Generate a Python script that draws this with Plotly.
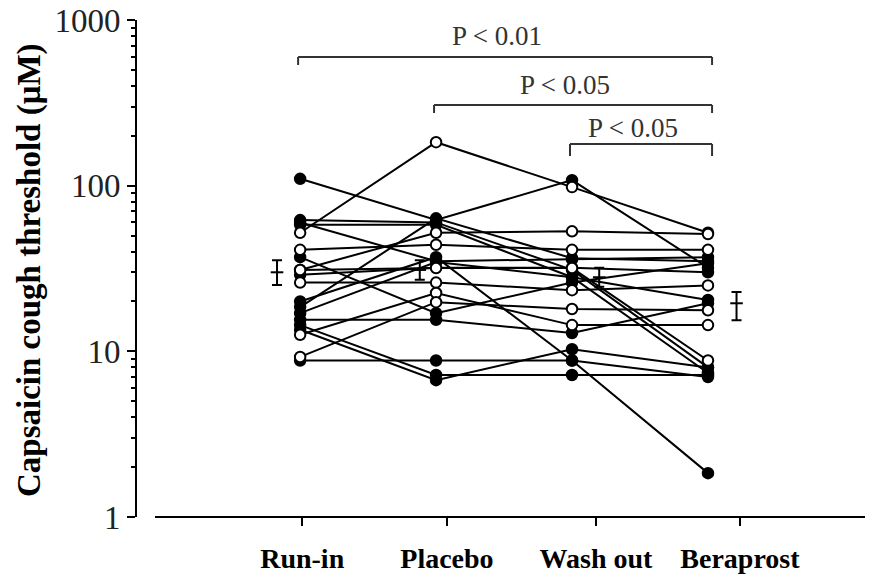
import plotly.graph_objects as go

# ---------------- data ----------------
categories = ["Run-in", "Placebo", "Wash out", "Beraprost"]

# one entry per subject (capsaicin cough threshold, µM)
run_in    = [110, 52, 62, 58, 60, 41, 31, 37, 26, 29, 20, 18.5, 17, 15.5, 14.4, 13.5, 12.6, 9.25, 8.8, 31]
placebo   = [62, 183, 60, 58, 35, 44, 52, 17, 26, 32, 37, 63.5, 34.6, 15.5, 7.2, 6.7, 22.5, 19.8, 8.8, 31.8]
wash_out  = [108, 98, 31, 28, 36, 41, 53, 26, 23.4, 32, 8.8, 36.5, 28, 12.9, 7.2, 10.3, 14.4, 18, 8.8, 31.8]
beraprost = [32, 52, 8.0, 7.4, 37, 41, 51, 34, 25, 30, 1.84, 35, 20.4, 19.5, 7.2, 8.0, 14.4, 17.7, 7.0, 8.8]
filled    = [1, 0, 1, 1, 1, 0, 0, 1, 0, 1, 1, 1, 1, 1, 1, 1, 0, 0, 1, 0]

# group mean ± SE
mean_vals  = [30, 31, 28, 19.5]
se_plus    = [5.5, 4.5, 4.0, 3.3]
se_minus   = [4.9, 4.0, 3.5, 4.1]

p_labels = ["P < 0.01", "P < 0.05", "P < 0.05"]
p_pairs  = [(0, 3), (1, 3), (2, 3)]

y_tick_vals = [1, 10, 100, 1000]
y_tick_text = ["1", "10", "100", "1000"]

# ---------------- styling ----------------
FONT = "Liberation Serif"
xpos = [1, 2, 3, 4]
mean_offsets = [-0.17, -0.12, 0.2, 0.21]
label_pos = [1.015, 2.08, 3.176, 4.235]

fig = go.Figure()

subjects = list(zip(run_in, placebo, wash_out, beraprost))
for vals in subjects:
    fig.add_trace(go.Scatter(x=xpos, y=list(vals), mode="lines",
                             line=dict(color="black", width=2),
                             hoverinfo="skip", showlegend=False))

for is_filled in (1, 0):
    xs, ys = [], []
    for vals, f in zip(subjects, filled):
        if f == is_filled:
            xs += xpos
            ys += list(vals)
    fig.add_trace(go.Scatter(
        x=xs, y=ys, mode="markers", showlegend=False,
        marker=dict(symbol="circle", size=10.5,
                    color="black" if is_filled else "white",
                    line=dict(color="black", width=2))))

# mean ± SE
fig.add_trace(go.Scatter(
    x=[p + o for p, o in zip(xpos, mean_offsets)], y=mean_vals,
    mode="markers", showlegend=False,
    marker=dict(symbol="line-ew-open", size=9, color="black",
                line=dict(color="black", width=2)),
    error_y=dict(type="data", symmetric=False, array=se_plus, arrayminus=se_minus,
                 color="black", thickness=2, width=5)))

# page has an 8px body margin: figure occupies 869x569 starting at (8, 8)
PLOT_BOTTOM = 509.0   # y of the x axis inside the figure
PLOT_H = 497.0

def py2paper(py):          # py = pixel y in the screenshot
    return (PLOT_BOTTOM - (py - 8)) / PLOT_H

bracket_px = [(57, 65, 36), (105, 113, 85), (144, 156, 128)]
shapes = []
annotations = []
for (a, b), lab, (ytop, yend, ylab) in zip(p_pairs, p_labels, bracket_px):
    x0, x1 = xpos[a] - 0.015, xpos[b] + 0.03
    for seg in [(x0, ytop, x1, ytop), (x0, ytop, x0, yend), (x1, ytop, x1, yend)]:
        shapes.append(dict(type="line", xref="x", yref="paper",
                           x0=seg[0], x1=seg[2], y0=py2paper(seg[1]), y1=py2paper(seg[3]),
                           line=dict(color="#333333", width=2)))
    annotations.append(dict(text=lab, xref="x", yref="paper",
                            x=(x0 + x1) / 2, y=py2paper(ylab), xshift=-8,
                            showarrow=False, xanchor="center", yanchor="middle",
                            font=dict(family=FONT, size=27, color="#333333")))

# x-axis baseline (offset from y axis)
shapes.append(dict(type="line", xref="paper", yref="paper", x0=(155 - 137) / 728, x1=1,
                   y0=0, y1=0, line=dict(color="black", width=2)))

annotations.append(dict(text="Capsaicin cough threshold (μM)", xref="paper", yref="paper",
                        x=(29 - 137) / 728, y=py2paper(270), textangle=-90, showarrow=False,
                        xanchor="center", yanchor="middle",
                        font=dict(family=FONT, size=33, color="black", weight="bold")))

minor_vals = [m * 10 ** d for d in range(3) for m in range(2, 10)]

fig.update_layout(
    width=869, height=569,
    margin=dict(l=129, r=12, t=12, b=60, autoexpand=False),
    paper_bgcolor="white", plot_bgcolor="white",
    shapes=shapes, annotations=annotations,
    xaxis=dict(range=[-0.2, 5.155], showgrid=False, zeroline=False, showline=False,
               automargin=False,
               tickmode="array", tickvals=label_pos, ticktext=categories,
               ticks="outside", ticklen=8, tickwidth=1.5, tickcolor="black",
               ticklabelstandoff=8,
               tickfont=dict(family=FONT, size=28, color="black", weight="bold")),
    yaxis=dict(type="log", range=[0, 3], showgrid=False, zeroline=False,
               automargin=False, ticklabeloverflow="allow",
               showline=True, linecolor="black", linewidth=2,
               tickmode="array", tickvals=y_tick_vals, ticktext=y_tick_text,
               ticks="outside", ticklen=8, tickwidth=2, tickcolor="black",
               tickfont=dict(family=FONT, size=33, color="#222222"),
               minor=dict(tickmode="array", tickvals=minor_vals, ticks="outside",
                          ticklen=4, tickwidth=1.5, tickcolor="black", showgrid=False)),
)

fig.write_html("out.html")
